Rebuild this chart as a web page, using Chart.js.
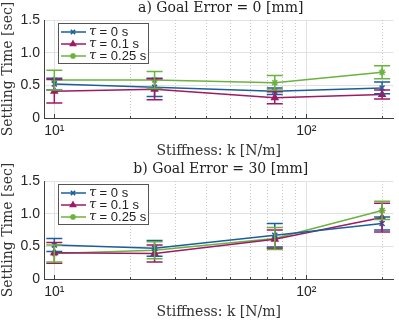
<!DOCTYPE html>
<html lang="en">
<head>
  <meta charset="UTF-8">
  <title>Settling Time vs Stiffness</title>
  <script src="https://cdn.jsdelivr.net/npm/chart.js"></script>
  <style>
    html, body { margin: 0; padding: 0; background: #fff; }
    .plot { width: 399px; height: 161px; position: relative; }
  </style>
</head>
<body>
  <div class="plot"><canvas id="chartA"></canvas></div>
  <div class="plot"><canvas id="chartB"></canvas></div>

  <script>
    // stiffness values (N/m) and legend labels
    const stiffness = [10, 25, 75, 200];
    const tauLabels = ['0 s', '0.1 s', '0.25 s'];
    const yTicks = [0, 0.5, 1, 1.5];
    const xMajor = [10, 100];
    const xMinor = [20, 30, 40, 50, 60, 70, 80, 90, 200];

    // a) goal error = 0 mm : mean settling time and error half-width
    const meanA0 = [0.52, 0.47, 0.41, 0.46];
    const errA0 = [0.09, 0.14, 0.05, 0.09];
    const meanA1 = [0.41, 0.44, 0.31, 0.36];
    const errA1 = [0.18, 0.16, 0.09, 0.07];
    const meanA2 = [0.58, 0.58, 0.54, 0.70];
    const errA2 = [0.15, 0.13, 0.11, 0.10];

    // b) goal error = 30 mm
    const meanB0 = [0.52, 0.47, 0.67, 0.85];
    const errB0 = [0.10, 0.12, 0.18, 0.10];
    const meanB1 = [0.40, 0.39, 0.61, 0.94];
    const errB1 = [0.16, 0.13, 0.14, 0.22];
    const meanB2 = [0.39, 0.44, 0.62, 1.05];
    const errB2 = [0.13, 0.13, 0.17, 0.14];

    const colors = ['#1b5e9b', '#9e1a63', '#6cb23f'];
    const markers = ['crossRot', 'triangle', 'star'];

    // minor dotted grid, error bars, legend and title
    const decorPlugin = {
      id: 'decor',
      beforeDatasetsDraw(chart) {
        const ctx = chart.ctx, x = chart.scales.x, a = chart.chartArea;
        ctx.save();
        ctx.strokeStyle = '#c8c8c8';
        ctx.lineWidth = 1;
        ctx.setLineDash([1, 2]);
        xMinor.forEach(v => {
          const px = Math.round(x.getPixelForValue(v)) + 0.5;
          ctx.beginPath();
          ctx.moveTo(px, a.top);
          ctx.lineTo(px, a.bottom);
          ctx.stroke();
        });
        ctx.setLineDash([]);
        ctx.strokeStyle = '#404040';
        xMinor.concat(xMajor).forEach(v => {
          const px = Math.round(x.getPixelForValue(v)) + 0.5;
          ctx.beginPath();
          ctx.moveTo(px, a.bottom);
          ctx.lineTo(px, a.bottom - (xMajor.includes(v) ? 4 : 2));
          ctx.stroke();
        });
        ctx.restore();
      },
      afterDatasetsDraw(chart, args, opts) {
        const ctx = chart.ctx, x = chart.scales.x, y = chart.scales.y, a = chart.chartArea;
        ctx.save();
        ctx.lineWidth = 1.5;
        chart.data.datasets.forEach((ds, i) => {
          ctx.strokeStyle = ds.borderColor;
          ds.data.forEach((p, j) => {
            const px = x.getPixelForValue(p.x);
            const top = y.getPixelForValue(p.y + ds.err[j]);
            const bot = y.getPixelForValue(p.y - ds.err[j]);
            ctx.beginPath();
            ctx.moveTo(px, top); ctx.lineTo(px, bot);
            ctx.moveTo(px - 8, top); ctx.lineTo(px + 8, top);
            ctx.moveTo(px - 8, bot); ctx.lineTo(px + 8, bot);
            ctx.stroke();
          });
        });
        ctx.restore();

        // title centred over the plot area
        ctx.save();
        ctx.fillStyle = '#222';
        ctx.font = '14px "DejaVu Serif"';
        ctx.textAlign = 'center';
        ctx.textBaseline = 'middle';
        ctx.fillText(opts.title, (a.left + a.right) / 2 + 2, 8);
        ctx.restore();

        // legend box
        const lx = 58, ly = 23, lw = 90, lh = 40;
        ctx.save();
        ctx.fillStyle = '#fff';
        ctx.fillRect(lx, ly, lw, lh);
        ctx.strokeStyle = '#555';
        ctx.lineWidth = 1;
        ctx.strokeRect(lx + 0.5, ly + 0.5, lw, lh);
        chart.data.datasets.forEach((ds, i) => {
          const ry = ly + 9 + i * 12;
          ctx.strokeStyle = ds.borderColor;
          ctx.lineWidth = 1.5;
          ctx.beginPath();
          ctx.moveTo(lx + 3, ry); ctx.lineTo(lx + 28, ry);
          ctx.stroke();
          ctx.fillStyle = ds.borderColor;
          Chart.helpers.drawPoint(ctx, { pointStyle: ds.pointStyle, radius: 3, borderWidth: 1.5, rotation: 0 }, lx + 15, ry);
          ctx.fillStyle = '#222';
          ctx.textBaseline = 'middle';
          ctx.font = 'italic 13px "DejaVu Serif"';
          ctx.fillText('\u03C4', lx + 31, ry);
          ctx.font = '13px "Liberation Sans"';
          ctx.fillText(' = ' + tauLabels[i], lx + 38, ry);
        });
        ctx.restore();
      }
    };

    function makeChart(id, title, means, errs) {
      return new Chart(document.getElementById(id), {
        type: 'line',
        data: {
          labels: stiffness,
          datasets: means.map((m, i) => ({
            label: '\u03C4 = ' + tauLabels[i],
            data: m.map((v, j) => ({ x: stiffness[j], y: v })),
            err: errs[i],
            borderColor: colors[i],
            backgroundColor: colors[i],
            borderWidth: 1.5,
            pointStyle: markers[i],
            pointRadius: 3.5,
            pointBorderWidth: 1.5,
            tension: 0
          }))
        },
        options: {
          responsive: true,
          maintainAspectRatio: false,
          animation: false,
          layout: { padding: { top: 20, right: 1, left: 0, bottom: 0 } },
          plugins: {
            legend: { display: false },
            tooltip: { enabled: false },
            decor: { title: title }
          },
          scales: {
            x: {
              type: 'logarithmic',
              min: 9.1,
              max: 222,
              afterBuildTicks: s => { s.ticks = xMajor.map(v => ({ value: v })); },
              afterFit: s => { s.height = 43; },
              ticks: {
                color: '#262626',
                font: { family: 'Liberation Sans', size: 14 },
                padding: 5,
                maxRotation: 0,
                callback: v => v === 10 ? '10\u00B9' : (v === 100 ? '10\u00B2' : '')
              },
              grid: { color: '#e2e2e2', drawTicks: false },
              border: { color: '#404040', width: 1 },
              title: {
                display: true,
                text: 'Stiffness: k [N/m]',
                color: '#333',
                font: { family: 'DejaVu Serif', size: 14 },
                padding: { top: 0, bottom: 1 }
              }
            },
            y: {
              min: 0,
              max: 1.5,
              afterBuildTicks: s => { s.ticks = yTicks.map(v => ({ value: v })); },
              afterFit: s => { s.width = 44; },
              ticks: {
                color: '#262626',
                font: { family: 'Liberation Sans', size: 14 },
                padding: 4
              },
              grid: { color: '#e2e2e2', drawTicks: false },
              border: { color: '#404040', width: 1 },
              title: {
                display: true,
                text: 'Settling Time [sec]',
                color: '#333',
                font: { family: 'DejaVu Serif', size: 14 },
                padding: { top: 0, bottom: 0 }
              }
            }
          }
        },
        plugins: [decorPlugin]
      });
    }

    makeChart('chartA', 'a) Goal Error = 0 [mm]', [meanA0, meanA1, meanA2], [errA0, errA1, errA2]);
    makeChart('chartB', 'b) Goal Error = 30 [mm]', [meanB0, meanB1, meanB2], [errB0, errB1, errB2]);
  </script>
</body>
</html>
